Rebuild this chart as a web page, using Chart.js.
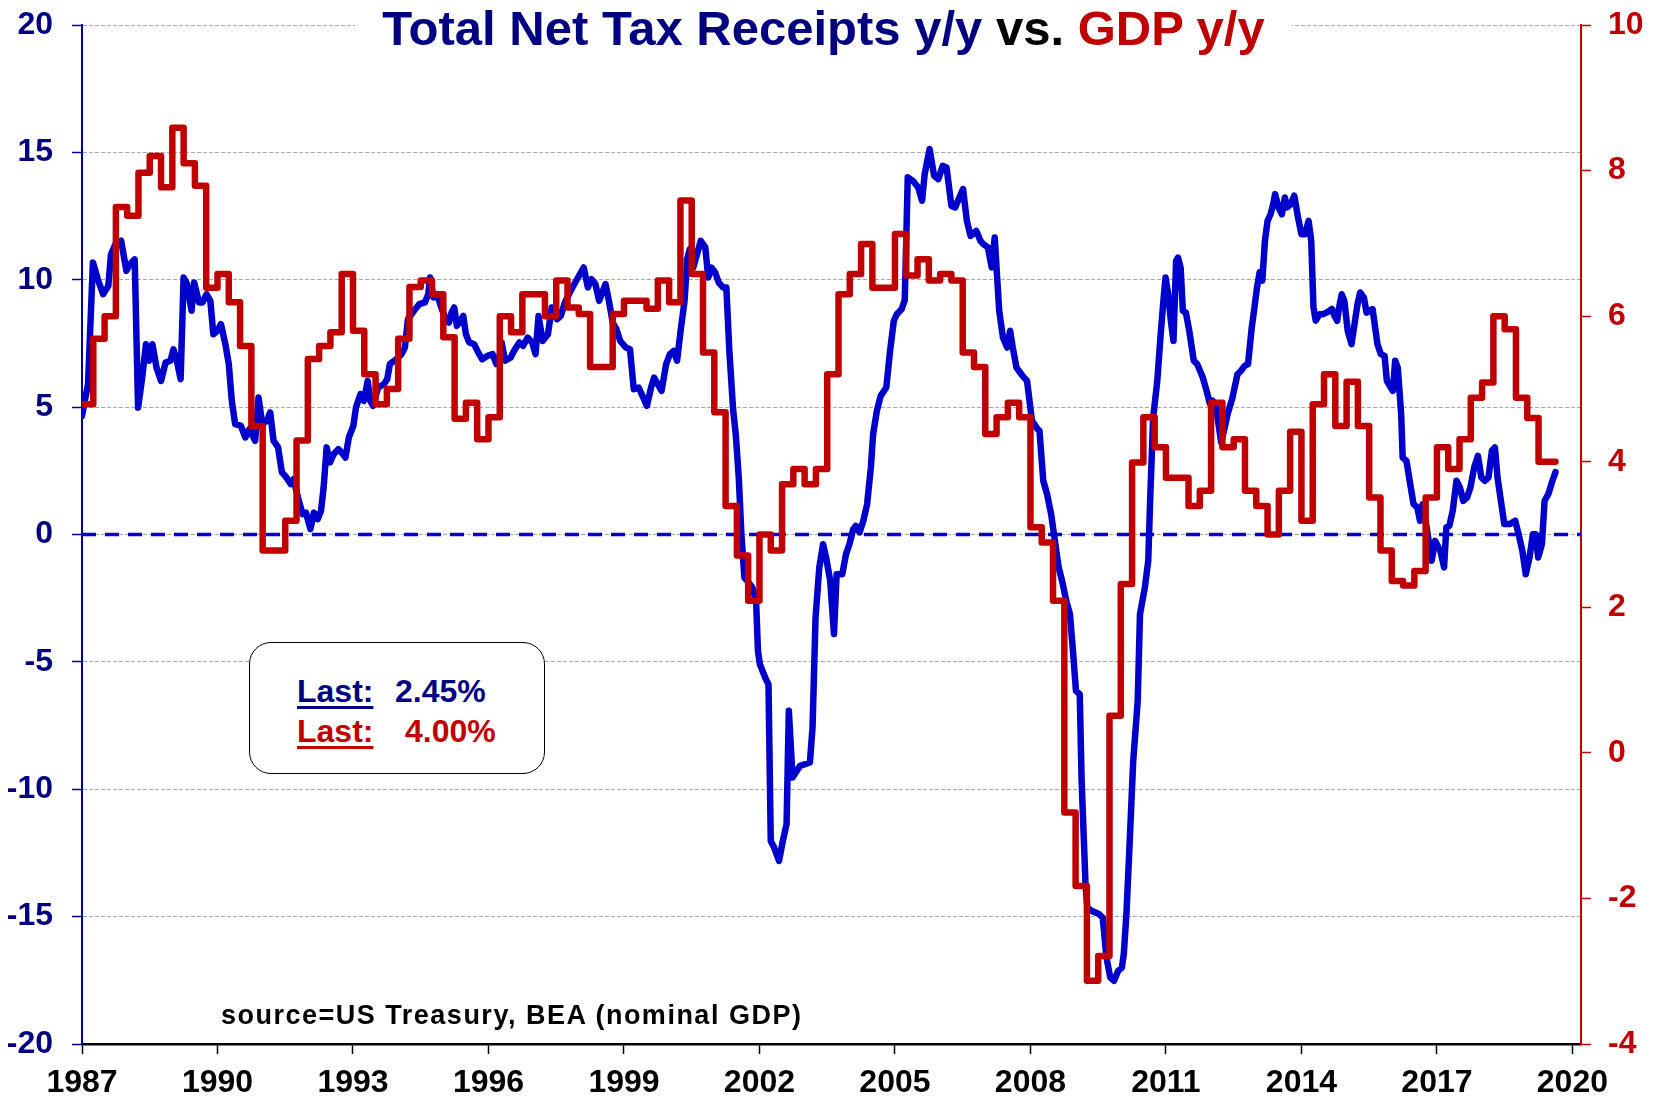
<!DOCTYPE html>
<html>
<head>
<meta charset="utf-8">
<title>Total Net Tax Receipts y/y vs. GDP y/y</title>
<script src="https://cdn.jsdelivr.net/npm/chart.js@4/dist/chart.umd.min.js"></script>
<style>
  body { margin: 0; background: #fff; }
  #wrap { position: relative; width: 1658px; height: 1099px; font-family: 'Liberation Sans', Arial, sans-serif; font-weight: bold; }
  #myChart { position: absolute; left: 0; top: 0; }
  .title { position: absolute; left: 355px; top: 0; width: 937px; height: 58px; background: #fff;
           text-align: center; font-size: 49px; line-height: 56px; white-space: nowrap; }
  .box { position: absolute; left: 249px; top: 642px; width: 296px; height: 132px; box-sizing: border-box;
         border: 1.5px solid #000; border-radius: 22px; background: #fff; }
  .txt { position: absolute; font-size: 32px; line-height: 32px; white-space: nowrap; }
  .u { text-decoration: underline; text-decoration-thickness: 3px; text-underline-offset: 4px; }
  .navy { color: #000080; }
  .red { color: #C00000; }
  .source { position: absolute; left: 221px; top: 1002px; font-size: 27px; line-height: 27px; letter-spacing: 1.5px; color: #000; white-space: nowrap; }
</style>
</head>
<body>
<div id="wrap">
  <canvas id="myChart" width="1658" height="1099"></canvas>
  <div class="title"><span class="navy">Total Net Tax Receipts y/y </span><span style="color:#000">vs. </span><span class="red">GDP y/y</span></div>
  <div class="box"></div>
  <div class="txt navy u" style="left:297px; top:675px;">Last:</div>
  <div class="txt navy" style="left:395px; top:675px;">2.45%</div>
  <div class="txt red u" style="left:297px; top:715px;">Last:</div>
  <div class="txt red" style="left:405px; top:715px;">4.00%</div>
  <div class="source">source=US Treasury, BEA (nominal GDP)</div>
</div>
<script>
// ---- data ----

// tax receipts y/y (left axis), x = months counted from Jan 1987
const taxMonth = [0,1.6,2.9,4.2,5.6,7.0,7.7,8.9,10.4,11.8,12.7,14.0,14.9,16.0,17.0,17.8,18.7,19.8,21.0,22.2,
  23.5,24.3,25.2,26.2,27.0,27.9,29.1,29.8,31.1,32.0,33.1,34.1,34.9,36.0,36.9,38.1,39.0,39.8,40.7,42.2,
  43.4,44.5,46.0,46.9,47.9,49.1,50.0,50.9,52.1,53.1,54.0,55.5,56.2,57.4,58.6,59.5,60.7,61.6,62.6,63.5,
  64.2,65.0,65.9,66.9,68.1,69.0,70.0,70.9,72.1,72.8,74.0,74.9,75.9,76.6,77.3,78.7,80.2,81.1,81.8,83.5,
  84.9,85.8,86.6,88.2,89.6,91.1,92.0,92.5,93.4,94.4,95.3,96.8,97.5,98.2,98.9,99.6,100.6,101.3,102.0,102.9,
  104.2,105.3,106.3,107.7,109.1,110.1,110.8,111.5,112.4,113.9,114.8,116.2,117.2,118.4,119.6,120.5,121.3,122.4,123.8,124.8,
  126.2,127.2,128.3,129.8,131.3,133.3,134.4,135.4,136.4,137.4,138.4,139.1,140.0,141.0,142.0,143.0,144.5,145.6,146.6,147.9,
  149.1,150.1,151.2,152.0,153.0,154.0,155.2,156.2,157.2,158.1,159.1,160.1,160.8,161.5,162.4,163.4,164.4,165.6,166.4,167.2,
  168.2,169.2,170.3,171.2,172.0,173.0,173.7,174.5,175.2,176.0,177.1,178.1,179.1,179.6,180.1,181.7,182.4,183.0,183.9,185.2,
  186.2,187.2,187.8,188.8,190.8,193.4,194.1,194.9,195.9,196.9,197.7,198.8,199.8,200.5,202.0,203.0,203.9,204.9,205.6,206.6,
  207.6,208.6,209.6,210.2,211.2,212.2,213.7,214.7,215.7,216.5,217.8,218.6,219.4,220.8,222.2,223.2,223.9,225.2,226.4,227.5,
  228.7,229.7,231.0,232.0,233.1,234.1,235.1,236.1,237.6,238.7,239.5,240.7,241.7,242.5,243.7,244.7,245.8,246.6,247.3,248.3,
  249.9,251.1,252.4,253.9,254.4,255.4,256.4,257.5,258.5,259.5,260.5,261.5,262.5,263.3,264.1,265.1,265.6,266.6,267.1,268.2,
  270.2,271.2,272.2,273.2,274.2,275.3,276.3,276.8,277.5,278.3,279.3,280.5,281.1,282.4,283.3,283.8,284.6,285.7,286.6,287.4,
  287.9,288.6,289.3,290.0,290.7,291.2,291.9,292.5,293.3,294.2,295.4,296.3,297.8,298.8,299.7,300.4,301.3,302.7,304.4,305.7,
  307.0,307.9,308.9,309.8,310.8,311.4,312.2,312.9,313.6,314.3,315.0,315.8,316.5,317.0,317.9,318.8,319.6,320.2,321.2,322.1,
  323.1,324.0,325.0,325.9,326.6,327.2,327.8,328.8,329.7,330.7,332.1,332.8,333.5,334.0,334.7,335.4,336.3,337.3,338.9,339.6,
  340.6,341.3,342.9,344.2,345.1,346.1,346.7,347.7,348.3,348.9,349.6,350.5,350.9,351.9,352.9,353.8,354.8,355.5,356.2,357.2,
  358.6,359.5,360.9,361.9,362.5,363.3,364.2,365.2,366.1,367.0,368.0,368.9,369.9,370.9,371.8,372.7,373.7,374.6,375.4,376.1,
  377.0,377.9,379.4,380.8,381.7,382.7,383.6,384.6,385.5,386.2,386.9,387.9,388.6,389.6,390.7,391.5];

const taxYoY = [4.66,5.9,10.68,10.02,9.43,9.76,11.0,11.4,11.53,10.35,10.6,10.8,4.98,6.16,7.47,6.82,7.47,6.55,6.03,6.75,
  6.82,7.27,6.82,6.1,10.09,9.83,8.78,9.89,9.11,9.11,9.43,9.17,7.86,8.0,8.26,7.47,6.69,5.25,4.33,4.27,
  3.81,4.14,3.68,5.38,4.33,4.46,4.79,3.68,3.42,2.44,2.3,1.98,2.17,1.45,0.8,0.86,0.21,0.86,0.6,0.93,
  1.85,3.42,2.83,3.16,3.35,3.22,3.02,3.81,4.27,4.99,5.51,5.25,6.03,5.25,5.05,5.77,5.9,6.1,6.69,6.88,
  7.08,7.34,8.45,8.78,9.04,9.11,9.43,10.09,9.3,9.43,8.98,8.39,8.32,8.71,8.91,8.19,8.39,8.58,7.86,7.54,
  7.47,7.14,6.88,7.01,7.08,6.69,6.82,7.54,6.82,6.95,7.21,7.54,7.41,7.73,7.54,7.08,8.58,7.6,7.86,8.91,
  8.45,8.58,9.11,9.56,9.96,10.48,9.7,10.02,9.83,9.17,9.56,9.83,9.17,8.32,8.06,7.6,7.34,7.27,5.7,5.77,
  5.38,5.05,5.77,6.16,5.9,5.64,6.69,7.08,7.21,6.82,8.06,9.17,10.8,11.2,10.48,11.0,11.53,11.27,10.09,10.48,
  10.29,9.89,9.7,9.7,7.21,4.9,3.94,2.24,0.01,-1.69,-1.88,-2.08,-2.6,-4.57,-5.09,-5.68,-5.88,-12.03,-12.29,-12.81,
  -12.03,-11.37,-6.92,-9.54,-9.08,-8.95,-7.58,-3.26,-1.29,-0.38,-0.9,-1.82,-3.91,-1.56,-1.56,-0.77,-0.38,0.21,0.34,0.08,
  0.54,1.19,2.63,3.94,4.86,5.44,5.77,7.21,8.39,8.65,8.85,9.2,14.02,13.88,13.62,13.1,14.15,15.13,14.08,13.95,
  14.47,14.41,12.9,12.84,13.23,13.56,12.31,11.72,11.92,11.53,11.4,11.27,10.48,11.66,8.78,7.73,7.34,8.0,7.34,6.55,
  6.23,6.03,4.46,4.14,4.07,2.11,1.59,0.8,-0.25,-1.29,-1.88,-2.6,-3.13,-4.57,-6.14,-6.27,-9.67,-13.6,-14.64,-14.77,
  -14.9,-15.04,-16.6,-17.39,-17.52,-17.13,-17.0,-16.47,-14.9,-12.29,-8.9,-6.53,-3.13,-2.08,-1.03,1.32,4.59,6.03,7.86,9.3,
  10.09,9.43,8.39,7.6,10.74,10.87,10.48,8.78,8.71,7.99,6.82,6.69,6.16,5.64,5.12,5.25,4.98,3.61,4.73,5.38,
  6.29,6.42,6.62,6.69,8.12,8.78,9.7,10.29,9.96,11.53,12.31,12.57,12.97,13.36,12.84,12.57,13.23,12.84,12.97,13.3,
  12.44,11.79,11.79,12.31,11.53,8.91,8.39,8.65,8.65,8.71,8.85,8.58,8.39,8.91,9.43,9.17,7.99,7.47,9.04,9.5,
  9.3,8.71,8.85,7.47,7.08,7.01,6.03,5.77,5.64,6.82,6.55,4.72,3.02,2.89,1.98,1.19,1.06,0.54,1.19,0.34,
  -1.03,-0.25,-0.64,-1.29,0.28,0.34,0.93,2.11,1.85,1.32,1.45,1.85,2.63,3.09,2.24,2.11,2.24,3.29,3.42,2.24,
  1.32,0.41,0.41,0.54,0.01,-0.64,-1.56,-0.9,0.01,0.01,-0.9,-0.38,1.32,1.59,2.11,2.45];

// nominal GDP y/y (right axis), one value per quarter starting 1987 Q1
const gdpYoY = [4.79,5.69,6.0,7.5,7.38,7.97,8.2,7.77,8.59,8.1,7.79,6.39,6.58,6.19,5.59,4.49,2.78,2.78,3.19,4.29,
  5.41,5.59,5.78,6.58,5.8,5.2,4.79,5.0,5.69,6.4,6.49,6.3,5.71,4.59,4.81,4.31,4.61,6.0,5.78,6.3,
  6.3,6.0,6.49,6.12,6.03,5.3,5.3,6.03,6.21,6.21,6.1,6.49,6.19,7.59,6.58,5.5,4.68,3.39,2.71,2.09,
  3.0,2.78,3.69,3.9,3.69,3.9,5.2,6.3,6.58,6.99,6.39,6.39,7.13,6.56,6.78,6.49,6.58,6.49,5.5,5.3,
  4.38,4.61,4.81,4.61,3.1,2.89,2.09,-0.82,-1.83,-3.13,-2.79,0.51,2.32,3.99,4.61,4.2,3.78,3.78,3.39,3.6,
  4.81,4.2,4.31,3.6,3.39,3.0,3.6,4.41,3.19,4.79,5.2,4.49,5.1,4.49,3.51,2.78,2.36,2.3,2.5,3.51,
  4.2,3.9,4.31,4.88,5.09,6.0,5.82,4.88,4.6,4.0];

const startYear = 1987;
const yearTicks = [1987, 1990, 1993, 1996, 1999, 2002, 2005, 2008, 2011, 2014, 2017, 2020];
const xMin = 1987, xMax = 2020.19;

// ---- build points ----
let taxPoints = [];
for (let i = 0; i < taxMonth.length; i++) {
  taxPoints.push({ x: startYear + taxMonth[i] / 12, y: taxYoY[i] });
}
let gdpPoints = [];
for (let i = 0; i < gdpYoY.length; i++) {
  gdpPoints.push({ x: startYear + i / 4, y: gdpYoY[i] });
}
// last quarter is held until the last month of data
gdpPoints.push({ x: taxPoints[taxPoints.length - 1].x, y: gdpYoY[gdpYoY.length - 1] });

// fixed box sizes so the plot area sits where it does in the picture
function fixBox(size, isWidth) {
  return function (scale) {
    if (isWidth) scale.width = size; else scale.height = size;
    scale.paddingTop = 0;
    scale.paddingBottom = 0;
    scale.paddingLeft = 0;
    scale.paddingRight = 0;
  };
}

Chart.defaults.font.family = "'Liberation Sans', Arial, sans-serif";
Chart.defaults.font.weight = 'bold';
Chart.defaults.font.size = 32;

const ctx = document.getElementById('myChart').getContext('2d');
const myChart = new Chart(ctx, {
  type: 'line',
  data: {
    datasets: [
      {
        label: 'GDP y/y',
        data: gdpPoints,
        yAxisID: 'y1',
        stepped: 'before',
        borderColor: '#C00000',
        borderWidth: 6.5,
        pointRadius: 0,
        borderJoinStyle: 'round',
        borderCapStyle: 'round',
        order: 1
      },
      {
        label: 'Total Net Tax Receipts y/y',
        data: taxPoints,
        yAxisID: 'y',
        borderColor: '#0000CC',
        borderWidth: 6.5,
        pointRadius: 0,
        tension: 0,
        borderJoinStyle: 'round',
        borderCapStyle: 'round',
        order: 2
      },
      {
        label: 'zero',
        data: [{ x: xMin, y: 0 }, { x: xMax, y: 0 }],
        yAxisID: 'y',
        borderColor: '#0000CC',
        borderWidth: 3.5,
        borderDash: [14, 9],
        pointRadius: 0,
        order: 3
      }
    ]
  },
  options: {
    responsive: false,
    animation: false,
    layout: { padding: { top: 25, left: 0, right: 0, bottom: 0 } },
    plugins: {
      legend: { display: false },
      tooltip: { enabled: false }
    },
    scales: {
      x: {
        type: 'linear',
        min: xMin,
        max: xMax,
        afterBuildTicks: function (scale) { scale.ticks = yearTicks.map(v => ({ value: v })); },
        afterFit: fixBox(55, false),
        grid: { drawOnChartArea: false, tickLength: 10, tickColor: '#000', tickWidth: 1.5 },
        border: { color: '#000', width: 2.5 },
        ticks: { color: '#000', padding: 10, maxRotation: 0, autoSkip: false, callback: v => String(v) }
      },
      y: {
        position: 'left',
        min: -20,
        max: 20,
        afterFit: fixBox(82, true),
        ticks: { stepSize: 5, color: '#000080', padding: 19 },
        grid: {
          color: c => (c.tick && c.tick.value === -20) ? 'rgba(0,0,0,0)' : '#A6A6A6',
          lineWidth: 1,
          tickLength: 10,
          tickColor: '#0000A0',
          tickWidth: 1.5
        },
        border: { color: '#0000A0', width: 2, dash: [4, 2] }
      },
      y1: {
        position: 'right',
        min: -4,
        max: 10,
        afterFit: fixBox(77, true),
        ticks: { stepSize: 2, color: '#C00000', padding: 17 },
        grid: { drawOnChartArea: false, tickLength: 10, tickColor: '#C00000', tickWidth: 1.5 },
        border: { color: '#C00000', width: 2 }
      }
    }
  }
});
</script>
</body>
</html>
